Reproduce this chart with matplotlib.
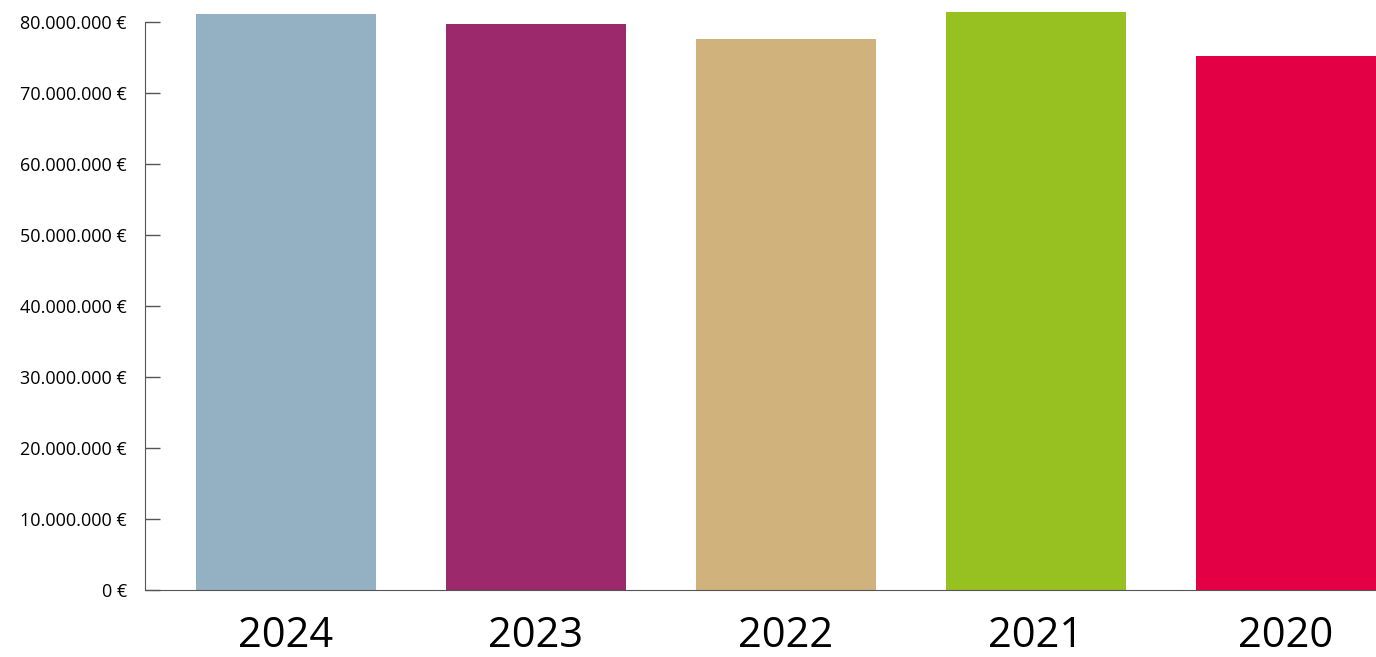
import matplotlib
matplotlib.use("Agg")
import matplotlib.pyplot as plt
from matplotlib.ticker import FuncFormatter

plt.rcParams['font.family'] = ['Open Sans', 'DejaVu Sans']

years = ["2024", "2023", "2022", "2021", "2020"]
values = [81.1e6, 79.7e6, 77.6e6, 81.4e6, 75.2e6]
colors = ["#94b0c3", "#9b296b", "#cfb27c", "#96c121", "#e40044"]
yticks = [0, 10e6, 20e6, 30e6, 40e6, 50e6, 60e6, 70e6, 80e6]

W, H = 1376, 657
fig = plt.figure(figsize=(W / 100, H / 100), dpi=100)
ax = fig.add_axes([145 / W, (H - 590) / H, 1 - 145 / W, 590 / H])

x = range(len(years))
ax.bar(x, values, width=0.72, color=colors)

ax.set_xlim(-0.564, 4.36)
ax.set_ylim(0, 590 / 71 * 10e6)
ax.set_xticks(list(x))
ax.set_xticklabels(years, fontsize=30)
ax.tick_params(axis='x', length=0, pad=18)

ax.set_yticks(yticks)
ax.yaxis.set_major_formatter(FuncFormatter(lambda v, p: f"{int(v):,}".replace(",", ".") + " €"))
ax.tick_params(axis='y', direction='in', length=11, width=1, color='#555555', pad=13, labelsize=13)

for s in ['top', 'right']:
    ax.spines[s].set_visible(False)
ax.spines['left'].set_bounds(0, 80e6)
ax.spines['left'].set_color('#555555')
ax.spines['bottom'].set_color('#555555')

fig.savefig("out.png", dpi=100)
